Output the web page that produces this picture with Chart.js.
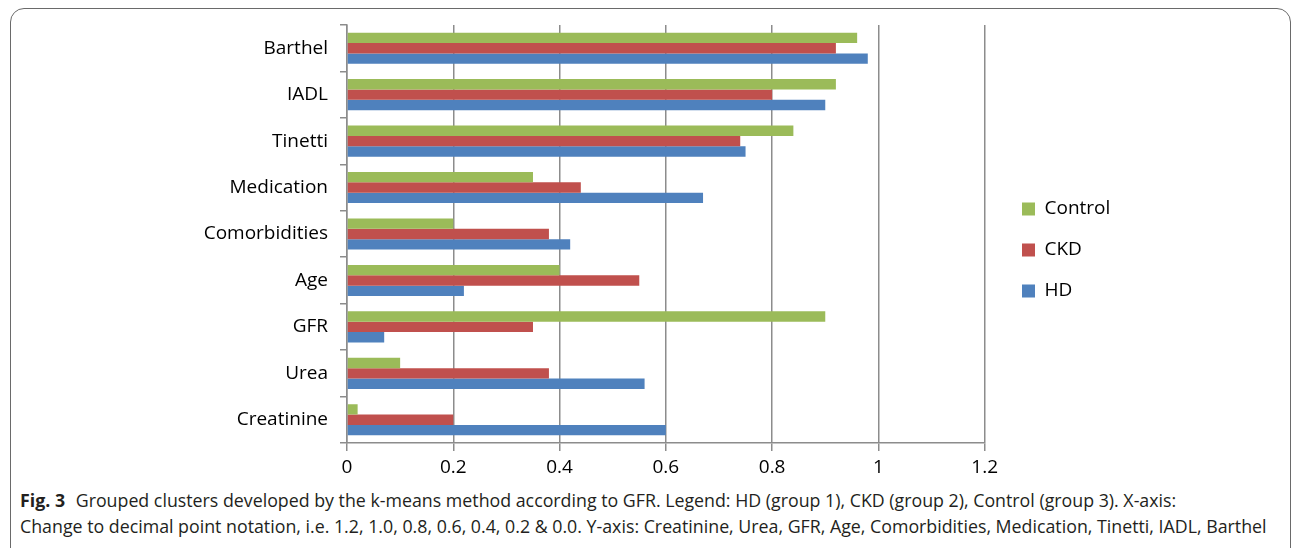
<!DOCTYPE html>
<html>
<head>
<meta charset="utf-8">
<script src="https://cdn.jsdelivr.net/npm/chart.js@4.4.1/dist/chart.umd.min.js"></script>
<style>
  html, body { margin: 0; padding: 0; background: #fff; }
  body { width: 1295px; height: 548px; position: relative; overflow: hidden; }
  #frame {
    position: absolute; left: 10px; top: 8px; width: 1281px; height: 570px;
    border: 1.5px solid #6a6a6a; border-radius: 14px; box-sizing: border-box;
  }
  #wrap { position: absolute; left: 0; top: 0; width: 1295px; height: 485px; }
  #caption {
    position: absolute; left: 20px; top: 487px; white-space: nowrap;
    font-family: "Open Sans", sans-serif; font-size: 17.8px; line-height: 26px;
    color: #231f20; letter-spacing: 0px;
  }
  #caption b { margin-right: 6px; }
</style>
</head>
<body>
<div id="frame"></div>
<div id="wrap"><canvas id="myChart"></canvas></div>
<div id="caption"><b>Fig. 3</b> Grouped clusters developed by the k-means method according to GFR. Legend: HD (group 1), CKD (group 2), Control (group 3). X-axis:<br>Change to decimal point notation, i.e. 1.2, 1.0, 0.8, 0.6, 0.4, 0.2 &amp; 0.0. Y-axis: Creatinine, Urea, GFR, Age, Comorbidities, Medication, Tinetti, IADL, Barthel</div>

<script>
// categorias de cima para baixo
var categories = ['Barthel', 'IADL', 'Tinetti', 'Medication', 'Comorbidities', 'Age', 'GFR', 'Urea', 'Creatinine'];

// valores
var controlValues = [0.96, 0.92, 0.84, 0.35, 0.20, 0.40, 0.90, 0.10, 0.02];
var ckdValues     = [0.92, 0.80, 0.74, 0.44, 0.38, 0.55, 0.35, 0.38, 0.20];
var hdValues      = [0.98, 0.90, 0.75, 0.67, 0.42, 0.22, 0.07, 0.56, 0.60];

var xTickLabels = ['0', '0.2', '0.4', '0.6', '0.8', '1', '1.2'];

var gridColor = '#8c8c8c';
var fontFamily = '"Open Sans", sans-serif';

// reposiciona a legenda depois do layout
var legendPlace = {
    id: 'legendPlace',
    afterLayout: function(chart) {
        var lg = chart.legend;
        var pad = lg.options.labels.padding;
        var w = lg.width;
        lg.left = 1022 - pad;
        lg.right = lg.left + w;
        lg.top = 199.5 - pad;
    }
};

document.addEventListener("DOMContentLoaded", function() {
    var ctx = document.getElementById('myChart').getContext('2d');

    var myChart = new Chart(ctx, {
        type: 'bar',
        data: {
            labels: categories,
            datasets: [
                { label: 'Control', data: controlValues, backgroundColor: '#9bbb59' },
                { label: 'CKD', data: ckdValues, backgroundColor: '#c0504d' },
                { label: 'HD', data: hdValues, backgroundColor: '#4f81bd' }
            ]
        },
        options: {
            indexAxis: 'y',
            responsive: true,
            maintainAspectRatio: false,
            animation: false,
            datasets: {
                bar: { categoryPercentage: 0.67, barPercentage: 1.0 }
            },
            layout: {
                padding: { left: 0, right: 190, top: 25, bottom: 0 }
            },
            plugins: {
                legend: {
                    position: 'right',
                    align: 'start',
                    labels: {
                        boxWidth: 13,
                        boxHeight: 13,
                        padding: 22,
                        color: '#000',
                        font: { family: fontFamily, size: 19 }
                    }
                },
                tooltip: { enabled: false }
            },
            scales: {
                x: {
                    min: 0,
                    max: 1.2,
                    ticks: {
                        stepSize: 0.2,
                        padding: 5,
                        color: '#000',
                        font: { family: fontFamily, size: 19 },
                        callback: function(v, i) { return xTickLabels[i]; }
                    },
                    grid: { color: gridColor, lineWidth: 1.5, tickLength: 8 },
                    border: { color: gridColor, width: 1.5 },
                    afterFit: function(s) { s.height = 42; }
                },
                y: {
                    ticks: {
                        padding: 12,
                        color: '#000',
                        font: { family: fontFamily, size: 19 }
                    },
                    grid: { drawOnChartArea: false, color: gridColor, lineWidth: 1.5, tickLength: 7 },
                    border: { color: gridColor, width: 1.5 },
                    afterFit: function(s) { s.width = 347; }
                }
            }
        },
        plugins: [legendPlace]
    });
});
</script>
</body>
</html>
